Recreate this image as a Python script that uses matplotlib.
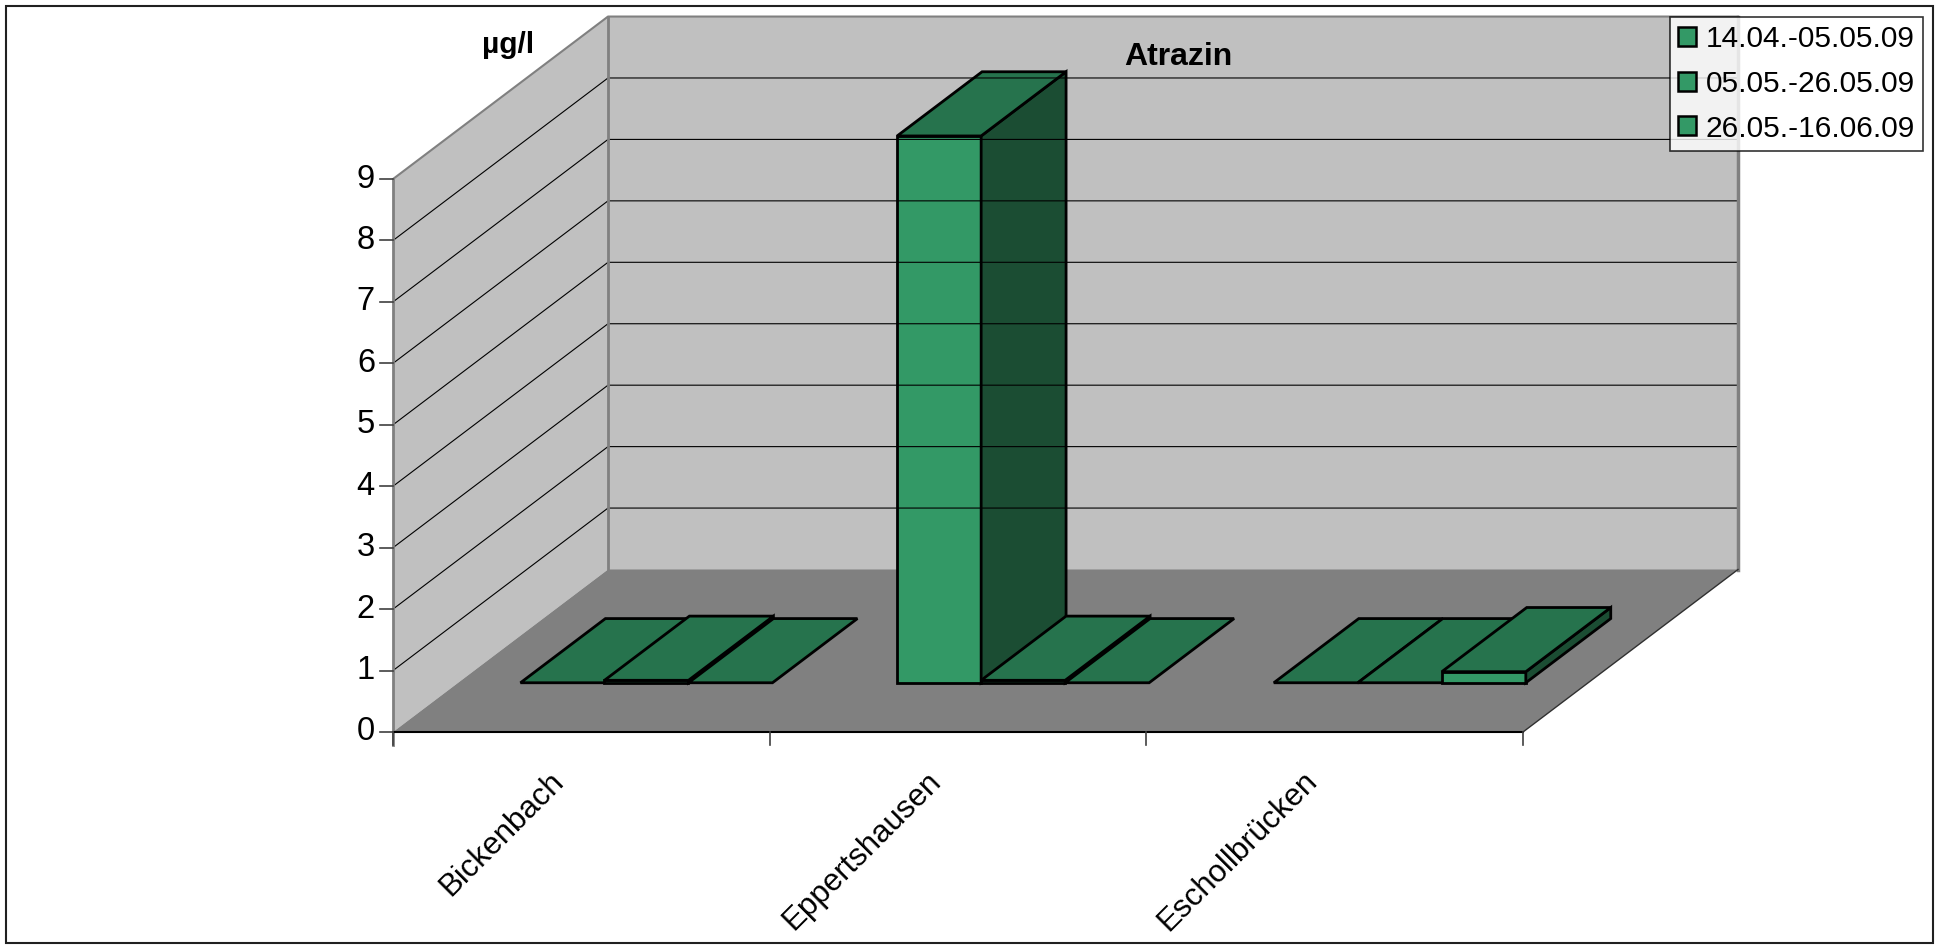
import matplotlib
matplotlib.use('Agg')
import matplotlib.pyplot as plt
from matplotlib.patches import Polygon, Rectangle, Patch

plt.rcParams['font.family'] = ['Liberation Sans', 'DejaVu Sans']

# --- data (Atrazin, µg/l) ---
categories = ['Bickenbach', 'Eppertshausen', 'Eschollbrücken']
periods = ['14.04.-05.05.09', '05.05.-26.05.09', '26.05.-16.06.09']
p1 = [0.0, 8.9, 0.0]
p2 = [0.04, 0.04, 0.0]
p3 = [0.0, 0.0, 0.18]
y_ticks = [0, 1, 2, 3, 4, 5, 6, 7, 8, 9]
series = [p1, p2, p3]

# --- layout of the pseudo 3D Excel chart (pixels of a 1941x949 image) ---
W, H = 1941, 949
X0, CAT_PX = 393, 376.67     # pixel x of category 0, pixels per category
Y0, UNIT_PX = 732, 61.44     # pixel y of value 0, pixels per unit
DX = 215 / CAT_PX            # depth vector in data units
DY = 162.5 / UNIT_PX
Z0, Z1 = 0.303, 0.698        # depth range of the bars
BW = 0.223                   # bar width (category units)
YMAX = y_ticks[-1]
NCAT = len(categories)

front_c, top_c, side_c = '#339966', '#26734D', '#1B4D33'
wall_c, floor_c, edge_c = '#C0C0C0', '#808080', '#808080'


def proj(x, v, z):
    return (x + z * DX, v + z * DY)


fig = plt.figure(figsize=(W / 100, H / 100), dpi=100)
ax = fig.add_axes([0, 0, 1, 1])
ax.set_xlim(-X0 / CAT_PX, (W - X0) / CAT_PX)
ax.set_ylim((Y0 - H) / UNIT_PX, Y0 / UNIT_PX)
ax.axis('off')

# walls and floor
left_wall = [proj(0, 0, 0), proj(0, YMAX, 0), proj(0, YMAX, 1), proj(0, 0, 1)]
back_wall = [proj(0, 0, 1), proj(0, YMAX, 1), proj(NCAT, YMAX, 1), proj(NCAT, 0, 1)]
floor = [proj(0, 0, 0), proj(NCAT, 0, 0), proj(NCAT, 0, 1), proj(0, 0, 1)]
ax.add_patch(Polygon(left_wall, closed=True, facecolor=wall_c, edgecolor='none'))
ax.add_patch(Polygon(back_wall, closed=True, facecolor=wall_c, edgecolor='none'))
ax.add_patch(Polygon(floor, closed=True, facecolor=floor_c, edgecolor='none'))

# gridlines on walls
for v in y_ticks[1:-1]:
    a, b = proj(0, v, 0), proj(0, v, 1)
    c = proj(NCAT, v, 1)
    ax.plot([a[0], b[0], c[0]], [a[1], b[1], c[1]], color='black', lw=0.8)

# wall edges
a, b, c = proj(0, YMAX, 0), proj(0, YMAX, 1), proj(NCAT, YMAX, 1)
ax.plot([a[0], b[0], c[0]], [a[1], b[1], c[1]], color=edge_c, lw=1.5)
a, b = proj(0, 0, 1), proj(0, YMAX, 1)
ax.plot([a[0], b[0]], [a[1], b[1]], color=edge_c, lw=2)
a, b = proj(NCAT, 0, 1), proj(NCAT, YMAX, 1)
ax.plot([a[0], b[0]], [a[1], b[1]], color=edge_c, lw=2.5)
a, b = proj(NCAT, 0, 0), proj(NCAT, 0, 1)
ax.plot([a[0], b[0]], [a[1], b[1]], color='#303030', lw=1)

# bars, drawn left to right so later bars cover earlier side faces
offset = (1 - len(series) * BW) / 2
for i in range(NCAT):
    for j, vals in enumerate(series):
        h = vals[i]
        xl = i + offset + j * BW
        xr = xl + BW
        kw = dict(closed=True, edgecolor='black', lw=2, joinstyle='miter')
        if h > 0:
            ax.add_patch(Polygon([proj(xl, 0, Z0), proj(xr, 0, Z0), proj(xr, h, Z0), proj(xl, h, Z0)],
                                 facecolor=front_c, **kw))
            ax.add_patch(Polygon([proj(xr, 0, Z0), proj(xr, 0, Z1), proj(xr, h, Z1), proj(xr, h, Z0)],
                                 facecolor=side_c, **kw))
        ax.add_patch(Polygon([proj(xl, h, Z0), proj(xr, h, Z0), proj(xr, h, Z1), proj(xl, h, Z1)],
                             facecolor=top_c, **kw))

# axes
tick_len_y = 13 / CAT_PX
tick_len_x = 13 / UNIT_PX
ax.plot([0, 0], [YMAX, -tick_len_x], color=edge_c, lw=2)
ax.plot([0, NCAT], [0, 0], color='black', lw=1.5)
for v in y_ticks:
    ax.plot([-tick_len_y, 0], [v, v], color='#404040', lw=1.2)
    ax.text(-18 / CAT_PX, v, str(v), ha='right', va='center', fontsize=23.5)
for k in range(NCAT + 1):
    ax.plot([k, k], [0, -tick_len_x], color='#404040', lw=1.2)
for i, name in enumerate(categories):
    ax.text(i + 0.5 - 0.03, -0.55, name, rotation=45, ha='right', va='top', fontsize=22.5)

# titles
fig.text(1178 / W, 1 - 65 / H, 'Atrazin', ha='center', va='baseline',
         fontsize=23, fontweight='bold')
fig.text(508 / W, 1 - 53 / H, 'µg/l', ha='center', va='baseline',
         fontsize=21.5, fontweight='bold')

# legend
handles = [Patch(facecolor=front_c, edgecolor='black', lw=1.8) for _ in periods]
leg = fig.legend(handles, periods, loc='upper right',
                 bbox_to_anchor=(1923 / W, 1 - 17 / H), fontsize=21.5,
                 frameon=True, fancybox=False, shadow=False,
                 handlelength=0.6, handleheight=0.6, handletextpad=0.33,
                 labelspacing=0.56, borderpad=0.27, borderaxespad=0)
leg.get_frame().set_edgecolor('black')
leg.get_frame().set_linewidth(1.2)

# outer border
fig.patches.append(Rectangle((6 / W, 6 / H), (1933 - 6) / W, (943 - 6) / H,
                             transform=fig.transFigure, fill=False,
                             edgecolor='#202020', lw=1.5))

fig.savefig('out.png', dpi=100)
